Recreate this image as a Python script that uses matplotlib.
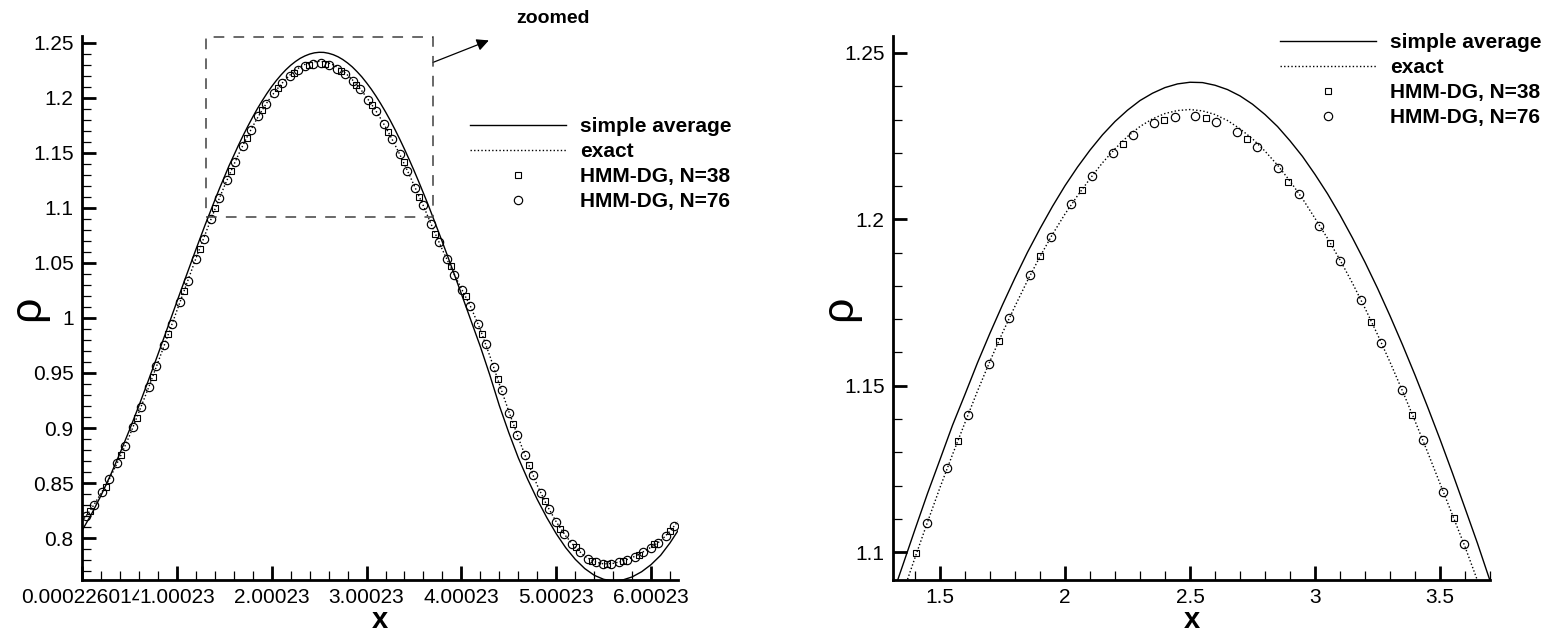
import matplotlib
matplotlib.use("Agg")
import matplotlib.pyplot as plt
from matplotlib.ticker import MultipleLocator, FixedLocator, FixedFormatter, FormatStrFormatter
from matplotlib.patches import Rectangle

plt.rcParams['font.family'] = ['Liberation Sans', 'DejaVu Sans']

# ------------------------------------------------------------------
# data
# ------------------------------------------------------------------

# HMM-DG, N=76 (cell centres)
x76 = [0.0413, 0.1240, 0.2067, 0.2894, 0.3721, 0.4547, 0.5374, 0.6201, 0.7027, 0.7854,
       0.8681, 0.9508, 1.0334, 1.1161, 1.1988, 1.2815, 1.3641, 1.4468, 1.5295, 1.6121,
       1.6948, 1.7775, 1.8602, 1.9428, 2.0255, 2.1082, 2.1908, 2.2735, 2.3562, 2.4389,
       2.5215, 2.6042, 2.6869, 2.7696, 2.8522, 2.9349, 3.0176, 3.1002, 3.1829, 3.2656,
       3.3483, 3.4309, 3.5136, 3.5963, 3.6789, 3.7616, 3.8443, 3.9270, 4.0096, 4.0923,
       4.1750, 4.2576, 4.3403, 4.4230, 4.5057, 4.5883, 4.6710, 4.7537, 4.8363, 4.9190,
       5.0017, 5.0844, 5.1670, 5.2497, 5.3324, 5.4150, 5.4977, 5.5804, 5.6631, 5.7457,
       5.8284, 5.9111, 5.9937, 6.0764, 6.1591, 6.2418]
rho76 = [0.8197, 0.8297, 0.8415, 0.8537, 0.8682, 0.8833, 0.9006, 0.9188, 0.9369, 0.9560,
         0.9751, 0.9948, 1.0144, 1.0339, 1.0536, 1.0721, 1.0898, 1.1087, 1.1253, 1.1412,
         1.1565, 1.1703, 1.1833, 1.1947, 1.2046, 1.2130, 1.2199, 1.2254, 1.2290, 1.2308,
         1.2311, 1.2293, 1.2263, 1.2217, 1.2154, 1.2076, 1.1980, 1.1875, 1.1758, 1.1628,
         1.1487, 1.1337, 1.1180, 1.1024, 1.0855, 1.0690, 1.0535, 1.0390, 1.0250, 1.0112,
         0.9948, 0.9764, 0.9551, 0.9342, 0.9136, 0.8939, 0.8751, 0.8570, 0.8409, 0.8267,
         0.8146, 0.8037, 0.7946, 0.7873, 0.7810, 0.7782, 0.7766, 0.7767, 0.7782, 0.7803,
         0.7833, 0.7873, 0.7915, 0.7955, 0.8024, 0.8106]

# HMM-DG, N=38 (cell centres)
x38 = [0.0827, 0.2480, 0.4134, 0.5787, 0.7441, 0.9094, 1.0748, 1.2401, 1.4055, 1.5708,
       1.7361, 1.9015, 2.0668, 2.2322, 2.3975, 2.5629, 2.7282, 2.8936, 3.0589, 3.2243,
       3.3896, 3.5550, 3.7203, 3.8857, 4.0510, 4.2164, 4.3817, 4.5470, 4.7124, 4.8777,
       5.0431, 5.2084, 5.3738, 5.5391, 5.7045, 5.8698, 6.0352, 6.2005]
rho38 = [0.8251, 0.8469, 0.8758, 0.9091, 0.9464, 0.9851, 1.0242, 1.0627, 1.0997, 1.1334,
         1.1634, 1.1890, 1.2088, 1.2226, 1.2300, 1.2305, 1.2241, 1.2112, 1.1929, 1.1691,
         1.1412, 1.1102, 1.0764, 1.0469, 1.0197, 0.9855, 0.9448, 0.9039, 0.8664, 0.8339,
         0.8085, 0.7924, 0.7797, 0.7767, 0.7788, 0.7849, 0.7946, 0.8067]

# continuous curves (denser sampling around the peak)
x_line = [0.0, 0.1, 0.2, 0.3, 0.4, 0.5, 0.6, 0.7, 0.8, 0.9, 1.0, 1.1, 1.2,
          1.3, 1.35, 1.4, 1.45, 1.5, 1.55, 1.6, 1.65, 1.7, 1.75, 1.8, 1.85, 1.9, 1.95,
          2.0, 2.05, 2.1, 2.15, 2.2, 2.25, 2.3, 2.35, 2.4, 2.45, 2.5, 2.55, 2.6, 2.65,
          2.7, 2.75, 2.8, 2.85, 2.9, 2.95, 3.0, 3.05, 3.1, 3.15, 3.2, 3.25, 3.3, 3.35,
          3.4, 3.45, 3.5, 3.55, 3.6, 3.65, 3.7,
          3.8, 3.9, 4.0, 4.1, 4.2, 4.3, 4.4, 4.5, 4.6, 4.7, 4.8, 4.9,
          5.0, 5.1, 5.2, 5.3, 5.4, 5.5, 5.6, 5.7, 5.8, 5.9, 6.0, 6.1, 6.2, 6.2832]
rho_exact = [0.8152, 0.8268, 0.8405, 0.8556, 0.8733, 0.8928, 0.9144, 0.9363, 0.9594, 0.9827,
             1.0065, 1.0301, 1.0538,
             1.0762, 1.0874, 1.0983, 1.1090, 1.1194, 1.1293, 1.1389, 1.1484, 1.1574, 1.1659,
             1.1739, 1.1816, 1.1888, 1.1955, 1.2016, 1.2071, 1.2122, 1.2170, 1.2212, 1.2249,
             1.2279, 1.2302, 1.2318, 1.2327, 1.2330, 1.2326, 1.2315, 1.2297, 1.2272, 1.2242,
             1.2205, 1.2163, 1.2115, 1.2062, 1.2003, 1.1943, 1.1878, 1.1808, 1.1733, 1.1654,
             1.1571, 1.1484, 1.1394, 1.1301, 1.1206, 1.1111, 1.1016, 1.0914, 1.0813,
             1.0618, 1.0437, 1.0266, 1.0097, 0.9893, 0.9654, 0.9399, 0.9150, 0.8912, 0.8687,
             0.8479, 0.8300, 0.8148, 0.8020, 0.7917, 0.7835, 0.7787, 0.7766, 0.7771, 0.7791,
             0.7823, 0.7868, 0.7918, 0.7975, 0.8065, 0.8152]
rho_avg = [0.8068, 0.8218, 0.8386, 0.8571, 0.8770, 0.8981, 0.9202, 0.9432, 0.9667, 0.9906,
           1.0146, 1.0384, 1.0619,
           1.0849, 1.0958, 1.1068, 1.1176, 1.1278, 1.1381, 1.1474, 1.1569, 1.1658, 1.1743,
           1.1824, 1.1901, 1.1972, 1.2039, 1.2101, 1.2157, 1.2208, 1.2254, 1.2294, 1.2328,
           1.2357, 1.2379, 1.2396, 1.2407, 1.2412, 1.2411, 1.2403, 1.2390, 1.2371, 1.2346,
           1.2315, 1.2279, 1.2236, 1.2189, 1.2135, 1.2077, 1.2013, 1.1944, 1.1871, 1.1793,
           1.1710, 1.1623, 1.1532, 1.1437, 1.1339, 1.1237, 1.1132, 1.1026, 1.0914,
           1.0688, 1.0455, 1.0218, 0.9978, 0.9739, 0.9480, 0.9203, 0.8957, 0.8729, 0.8532,
           0.8351, 0.8187, 0.8040, 0.7913, 0.7808, 0.7724, 0.7663, 0.7626, 0.7612, 0.7620,
           0.7648, 0.7695, 0.7760, 0.7844, 0.7958, 0.8068]

# axis ranges and tick labels
xlim1 = (0.000226, 6.2834)
ylim1 = (0.762, 1.256)
xticks1 = [0.000226, 1.000226, 2.000226, 3.000226, 4.000226, 5.000226, 6.000226]
xticklabels1 = ['0.000226014', '1.00023', '2.00023', '3.00023', '4.00023', '5.00023', '6.00023']
xlim2 = (1.312, 3.700)
ylim2 = (1.0916, 1.2551)

# ------------------------------------------------------------------
# figure
# ------------------------------------------------------------------
W, H = 1558, 633
fig = plt.figure(figsize=(W / 100, H / 100), dpi=100)
ax1 = fig.add_axes([82 / W, 53 / H, 596 / W, 544 / H])
ax2 = fig.add_axes([893 / W, 53 / H, 597 / W, 544 / H])

dotted = (0, (1, 1.6))

for ax in (ax1, ax2):
    l_avg, = ax.plot(x_line, rho_avg, color='black', lw=1.0, label='simple average')
    l_ex, = ax.plot(x_line, rho_exact, color='black', lw=1.0, ls=dotted, label='exact')
    l38, = ax.plot(x38, rho38, ls='none', marker='s', ms=4.3, mfc='none', mec='black',
                   mew=0.8, label='HMM-DG, N=38')
    l76, = ax.plot(x76, rho76, ls='none', marker='o', ms=6.0, mfc='none', mec='black',
                   mew=0.85, label='HMM-DG, N=76')

    for s in ('top', 'right'):
        ax.spines[s].set_visible(False)
    for s in ('left', 'bottom'):
        ax.spines[s].set_linewidth(2.0)
    ax.tick_params(which='major', direction='in', length=10, width=2, labelsize=15, pad=6)
    ax.tick_params(which='minor', direction='in', length=6.5, width=0.9)
    ax.yaxis.set_major_formatter(FormatStrFormatter('%g'))

    ax.set_xlabel('x', fontsize=21, fontweight='bold')
    ax.xaxis.label.set_va('baseline')
    ax.xaxis.set_label_coords(0.5, -(628 - 580) / 544)
    ax.set_ylabel('\u03c1', fontsize=32)
    ax.yaxis.label.set_va('center')

    ax.legend(handles=[l_avg, l_ex, l38, l76], loc='upper left', frameon=False,
              prop={'weight': 'bold', 'size': 15}, handlelength=4.6, handletextpad=0.7,
              labelspacing=0.29, borderpad=0, borderaxespad=0, numpoints=1,
              bbox_transform=fig.transFigure,
              bbox_to_anchor=((470 if ax is ax1 else 1280) / W,
                              1 - (117 if ax is ax1 else 33) / H))

# left panel: full period
ax1.set_xlim(*xlim1)
ax1.set_ylim(*ylim1)
ax1.xaxis.set_major_locator(FixedLocator(xticks1))
ax1.xaxis.set_major_formatter(FixedFormatter(xticklabels1))
ax1.xaxis.set_minor_locator(MultipleLocator(0.2))
ax1.yaxis.set_major_locator(MultipleLocator(0.05))
ax1.yaxis.set_minor_locator(MultipleLocator(0.01))
ax1.yaxis.set_label_coords(-54 / 596, 0.5)
for lbl in ax1.get_xticklabels():
    lbl.set_bbox(dict(facecolor='white', edgecolor='none', pad=0))

# dashed box marking the zoomed window
ax1.add_patch(Rectangle((xlim2[0], ylim2[0]), xlim2[1] - xlim2[0], ylim2[1] - ylim2[0],
                        fill=False, ec='#404040', lw=1.1, ls=(0, (7, 6)), clip_on=False,
                        zorder=5))
ax1.annotate('', xy=(4.289, 1.252), xytext=(xlim2[1], 1.232),
             arrowprops=dict(arrowstyle='-|>', color='black', lw=0.9, mutation_scale=18,
                             shrinkA=0, shrinkB=0),
             annotation_clip=False)
ax1.text(4.574, 1.272, 'zoomed', fontsize=14, fontweight='bold', ha='left', va='center',
         clip_on=False)

# right panel: zoom of the peak
ax2.set_xlim(*xlim2)
ax2.set_ylim(*ylim2)
ax2.xaxis.set_major_locator(MultipleLocator(0.5))
ax2.xaxis.set_minor_locator(MultipleLocator(0.1))
ax2.xaxis.set_major_formatter(FormatStrFormatter('%g'))
ax2.yaxis.set_major_locator(MultipleLocator(0.05))
ax2.yaxis.set_minor_locator(MultipleLocator(0.01))
ax2.yaxis.set_label_coords(-53 / 597, 0.5)

fig.savefig('out.png', dpi=100, facecolor='white')
